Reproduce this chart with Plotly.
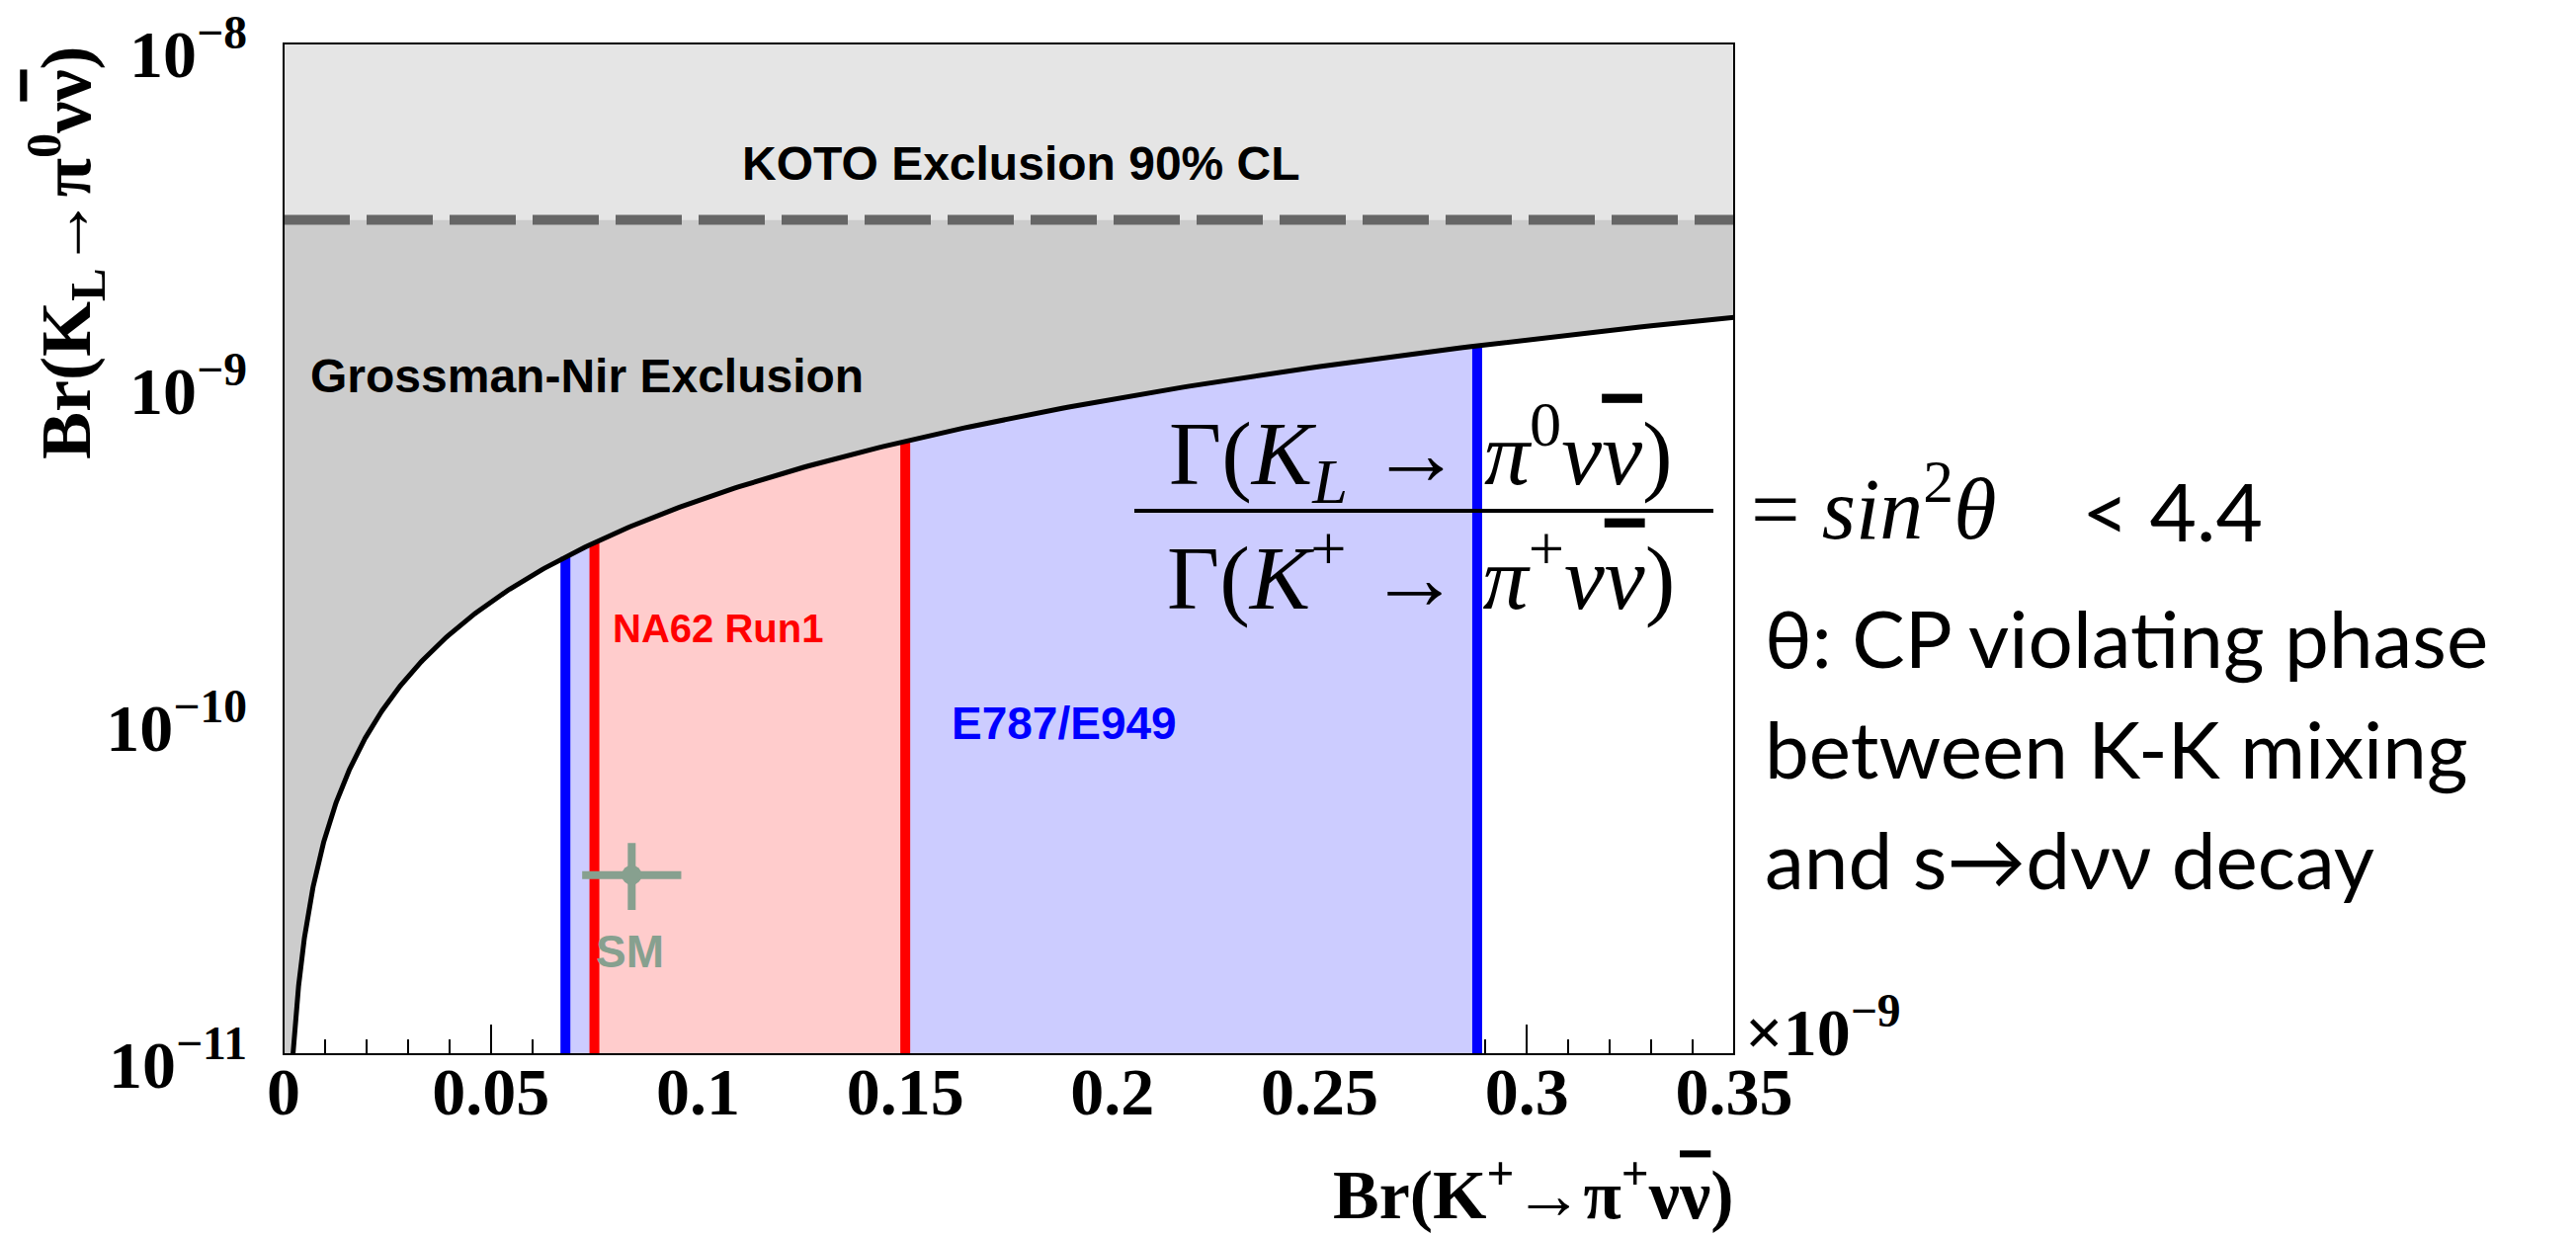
import numpy as np
import plotly.graph_objects as go

# ---------------- data ----------------
X_RANGE = [0.0, 0.35]            # Br(K+ -> pi+ nu nubar) in units of 1e-9
Y_RANGE_EXP = [-11, -8]          # log10 Br(KL -> pi0 nu nubar)
Y_MIN = 1e-11
Y_MAX = 1e-8

KOTO_LIMIT = 3.0e-9              # KOTO 90% CL upper limit
GN_RATIO = 4.4                   # Grossman-Nir bound: Br(KL) < 4.4 Br(K+)

E949_RANGE = [0.068, 0.288]      # E787/E949 (x1e-9)
NA62_RANGE = [0.075, 0.150]      # NA62 Run1 (x1e-9)

SM_X = [0.084]
SM_Y = [3.4e-11]
SM_XERR = [0.011]
SM_YERR_PLUS = [0.72e-11]
SM_YERR_MINUS = [0.65e-11]

X_TICKS = [0, 0.05, 0.1, 0.15, 0.2, 0.25, 0.3, 0.35]
X_TICKTEXT = ["0", "0.05", "0.1", "0.15", "0.2", "0.25", "0.3", "0.35"]
Y_TICKS = [1e-11, 1e-10, 1e-9, 1e-8]
Y_TICKTEXT = ["10<sup>−11</sup>", "10<sup>−10</sup>", "10<sup>−9</sup>", "10<sup>−8</sup>"]

# ---------------- styles ----------------
C_KOTO = "#e5e5e5"
C_GN = "#cccccc"
C_BLUE_FILL = "#ccccff"
C_RED_FILL = "#ffcccc"
C_BLUE = "#0000ff"
C_RED = "#ff0000"
C_SM = "#87a08f"
SERIF = "Liberation Serif"
SANS = "Liberation Sans"
TEXTSANS = "Lato"
NUBAR = '<span style="text-decoration:overline">ν</span>'

W, H = 2607, 1250
PL, PR, PT, PB = 287, 1755, 44, 1067


def px(x):
    return (x - PL) / (PR - PL)


def py(y):
    return (PB - y) / (PB - PT)


# bound curve samples
x_start = Y_MIN / (GN_RATIO * 1e-9)
curve_x = np.geomspace(x_start, X_RANGE[1], 600)
curve_y = GN_RATIO * 1e-9 * curve_x


def region(lo, hi):
    xs = curve_x[(curve_x > lo) & (curve_x < hi)]
    xx = [lo, lo] + list(xs) + [hi, hi]
    yy = [Y_MIN, GN_RATIO * 1e-9 * lo] + list(GN_RATIO * 1e-9 * xs) + [GN_RATIO * 1e-9 * hi, Y_MIN]
    return xx, yy


fig = go.Figure()

# KOTO excluded region
fig.add_trace(go.Scatter(x=[X_RANGE[0], X_RANGE[1], X_RANGE[1], X_RANGE[0]],
                         y=[KOTO_LIMIT, KOTO_LIMIT, Y_MAX, Y_MAX],
                         fill="toself", fillcolor=C_KOTO, line=dict(width=0),
                         mode="lines", hoverinfo="skip", showlegend=False))

# Grossman-Nir excluded region
gn_x = [X_RANGE[0], X_RANGE[1]] + list(curve_x[::-1]) + [X_RANGE[0]]
gn_y = [KOTO_LIMIT, KOTO_LIMIT] + list(np.minimum(curve_y[::-1], KOTO_LIMIT)) + [Y_MIN]
fig.add_trace(go.Scatter(x=gn_x, y=gn_y, fill="toself", fillcolor=C_GN,
                         line=dict(width=0), mode="lines", hoverinfo="skip", showlegend=False))

# experimental bands
bx, by = region(*E949_RANGE)
fig.add_trace(go.Scatter(x=bx, y=by, fill="toself", fillcolor=C_BLUE_FILL,
                         line=dict(width=0), mode="lines", hoverinfo="skip", showlegend=False))
rx, ry = region(*NA62_RANGE)
fig.add_trace(go.Scatter(x=rx, y=ry, fill="toself", fillcolor=C_RED_FILL,
                         line=dict(width=0), mode="lines", hoverinfo="skip", showlegend=False))

# vertical boundary lines
for xv in E949_RANGE:
    fig.add_trace(go.Scatter(x=[xv, xv], y=[Y_MIN, GN_RATIO * 1e-9 * xv], mode="lines",
                             line=dict(color=C_BLUE, width=10), hoverinfo="skip", showlegend=False))
for xv in NA62_RANGE:
    fig.add_trace(go.Scatter(x=[xv, xv], y=[Y_MIN, GN_RATIO * 1e-9 * xv], mode="lines",
                             line=dict(color=C_RED, width=10), hoverinfo="skip", showlegend=False))

# Grossman-Nir curve
fig.add_trace(go.Scatter(x=curve_x, y=curve_y, mode="lines",
                         line=dict(color="black", width=5), hoverinfo="skip", showlegend=False))

# KOTO dashed line
fig.add_trace(go.Scatter(x=X_RANGE, y=[KOTO_LIMIT, KOTO_LIMIT], mode="lines",
                         line=dict(color="#666666", width=10, dash="67px,17px"),
                         hoverinfo="skip", showlegend=False))

# SM prediction
fig.add_trace(go.Scatter(x=SM_X, y=SM_Y, mode="markers",
                         marker=dict(color=C_SM, size=20),
                         error_x=dict(type="data", array=SM_XERR, color=C_SM, thickness=8, width=4),
                         error_y=dict(type="data", array=SM_YERR_PLUS, arrayminus=SM_YERR_MINUS,
                                      color=C_SM, thickness=8, width=4),
                         hoverinfo="skip", showlegend=False))

ann = []


def add(text, x, y, size, family, color="black", xanchor="center", yanchor="middle",
        bold=False, angle=0):
    ann.append(dict(text=("<b>%s</b>" % text) if bold else text,
                    x=px(x), y=py(y), xref="paper", yref="paper",
                    xanchor=xanchor, yanchor=yanchor, showarrow=False,
                    textangle=angle,
                    font=dict(family=family, size=size, color=color)))


# in-plot labels
add("KOTO Exclusion 90% CL", 1033, 165, 48, SANS, bold=True)
add("Grossman-Nir Exclusion", 312, 380, 48, SANS, xanchor="left", bold=True)
add("NA62 Run1", 726, 636, 40, SANS, color=C_RED, bold=True)
add("E787/E949", 1077, 732, 46, SANS, color=C_BLUE, bold=True)
add("SM", 637, 963, 46, SANS, color=C_SM, bold=True)

# axis titles
add("Br(K<sub>L</sub>→π<sup>0</sup>ν%s)" % NUBAR, 66, 256, 72, SERIF, bold=True, angle=-90)
add("Br(K<sup>+</sup>→π<sup>+</sup>ν%s)" % NUBAR, 1757, 1204, 70, SERIF, xanchor="right", bold=True)
add("×10<sup>−9</sup>", 1764, 1040, 68, SERIF, xanchor="left", bold=True)

# ratio equation
add("Γ(<i>K</i><sub><i>L</i></sub> → <i>π</i><sup>0</sup><i>ν</i><i>%s</i>)" % NUBAR, 1438, 458, 92, SERIF)
add("Γ(<i>K</i><sup>+</sup> → <i>π</i><sup>+</sup><i>ν</i><i>%s</i>)" % NUBAR, 1438, 578, 92, SERIF)
add("= <i>sin</i><sup>2</sup><i>θ</i>", 1770, 508, 88, SERIF, xanchor="left")
add("&lt; 4.4", 2105, 516, 82, TEXTSANS, xanchor="left")

# explanatory text
add("θ: CP violating phase", 1784, 645, 80, TEXTSANS, xanchor="left")
add("between K-K mixing", 1784, 757, 80, TEXTSANS, xanchor="left")
add("and s→dνν decay", 1784, 869, 80, TEXTSANS, xanchor="left")

shapes = [
    dict(type="line", xref="paper", yref="paper", x0=px(1148), x1=px(1734), y0=py(517), y1=py(517),
         line=dict(color="black", width=4)),
    dict(type="rect", xref="paper", yref="paper", x0=0, x1=1, y0=0, y1=1,
         line=dict(color="black", width=2), layer="above"),
]

fig.update_layout(
    width=W, height=H,
    margin=dict(l=PL, r=W - PR, t=PT, b=H - PB, pad=0, autoexpand=False),
    paper_bgcolor="white", plot_bgcolor="white",
    annotations=ann, shapes=shapes,
    xaxis=dict(range=[X_RANGE[0], X_RANGE[1] + 1e-6], showgrid=False, zeroline=False,
               tickvals=X_TICKS, ticktext=["<b>%s</b>" % t for t in X_TICKTEXT],
               ticks="inside", ticklen=30, tickwidth=2, tickcolor="black",
               minor=dict(dtick=0.01, ticks="inside", ticklen=15, tickwidth=2, tickcolor="black"),
               tickfont=dict(family=SERIF, size=68, color="black"),
               ticklabelstandoff=-8, ticklabeloverflow="allow", automargin=False,
               layer="below traces", showline=False),
    yaxis=dict(type="log", range=[Y_RANGE_EXP[0] - 0.0005, Y_RANGE_EXP[1] + 0.0005],
               showgrid=False, zeroline=False,
               tickvals=Y_TICKS, ticktext=["<b>%s</b>" % t for t in Y_TICKTEXT],
               ticks="", tickfont=dict(family=SERIF, size=68, color="black"),
               ticklabelstandoff=36, ticklabelshift=10, ticklabeloverflow="allow",
               automargin=False, showline=False),
)

fig.write_html("out.html")
